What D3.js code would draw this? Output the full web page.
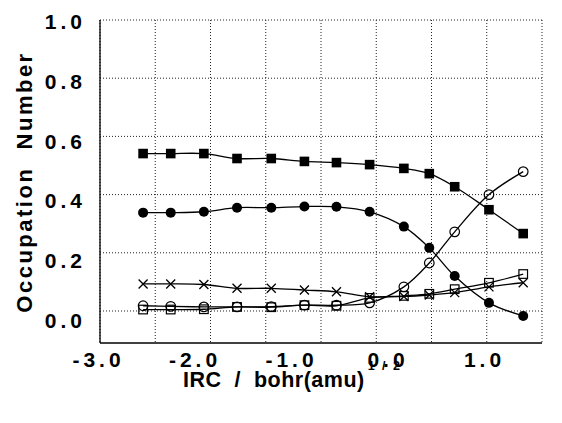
<!DOCTYPE html>
<html>
<head>
<meta charset="utf-8">
<script src="https://cdn.jsdelivr.net/npm/d3@7"></script>
<style>
  html, body { margin: 0; padding: 0; background: #fff; }
  svg { display: block; }
  text { font-family: "Liberation Sans", Arial, Helvetica, sans-serif; font-weight: bold; fill: #000; white-space: pre; }
</style>
</head>
<body>
<svg id="chart" width="562" height="423"></svg>
<script>
// ---- data ----
const irc = [-2.61, -2.36, -2.06, -1.76, -1.45, -1.15, -0.86, -0.56, -0.25, -0.02, 0.21, 0.52, 0.83];
const filledSquare = [0.541, 0.541, 0.541, 0.524, 0.524, 0.514, 0.510, 0.503, 0.490, 0.472, 0.427, 0.348, 0.266];
const filledCircle = [0.338, 0.338, 0.341, 0.355, 0.355, 0.359, 0.358, 0.341, 0.290, 0.217, 0.120, 0.028, -0.017];
const openCircle   = [0.018, 0.016, 0.014, 0.014, 0.015, 0.020, 0.020, 0.028, 0.083, 0.165, 0.272, 0.400, 0.479];
const openSquare   = [0.005, 0.005, 0.006, 0.014, 0.013, 0.020, 0.018, 0.045, 0.052, 0.059, 0.075, 0.097, 0.127];
const crossSeries  = [0.093, 0.093, 0.091, 0.078, 0.078, 0.072, 0.066, 0.049, 0.050, 0.055, 0.063, 0.083, 0.097];
const xTickValues = [-3, -2, -1, 0, 1];
const yTickValues = [0, 0.2, 0.4, 0.6, 0.8, 1.0];
const xGridValues = [-3, -2.5, -2, -1.5, -1, -0.5, 0, 0.5, 1];

const svg = d3.select("#chart");
const x = d3.scaleLinear().domain([-3, 1]).range([100, 542]);
const y = d3.scaleLinear().domain([-0.11, 1.0]).range([343, 20]);
// tick labels in the original are printed slightly off the grid
const xLab = d3.scaleLinear().domain([-3, 1]).range([96, 482]);
const yLab = d3.scaleLinear().domain([0, 1]).range([320, 21]);

// grid (dotted)
const grid = svg.append("g").attr("stroke", "#222").attr("stroke-width", 1).attr("stroke-dasharray", "1,2");
grid.selectAll("line.v").data(xGridValues).join("line")
  .attr("x1", d => x(d)).attr("x2", d => x(d)).attr("y1", y(1)).attr("y2", y(-0.11));
grid.selectAll("line.h").data(yTickValues).join("line")
  .attr("x1", x(-3)).attr("x2", x(1)).attr("y1", d => y(d)).attr("y2", d => y(d));

// solid left and bottom frame
svg.append("line").attr("x1", x(-3)).attr("x2", x(-3)).attr("y1", y(1)).attr("y2", y(-0.11))
  .attr("stroke", "#000").attr("stroke-width", 1.3);
svg.append("line").attr("x1", x(-3)).attr("x2", x(1)).attr("y1", y(-0.11)).attr("y2", y(-0.11))
  .attr("stroke", "#000").attr("stroke-width", 1.3);

// axes labels via d3 axes (no tick marks)
const fmt = d => d3.format(".1f")(d).replace("\u2212", "-");
const xAxis = svg.append("g").attr("transform", "translate(0,349)")
  .call(d3.axisBottom(xLab).tickValues(xTickValues).tickSize(0).tickFormat(fmt));
xAxis.select(".domain").remove();
xAxis.attr("font-size", 21).attr("font-family", null);
xAxis.selectAll("text").attr("font-size", 21).attr("dy", "0.71em").attr("dx", 2)
  .style("letter-spacing", "4px").attr("fill", "#000");

const yAxis = svg.append("g").attr("transform", "translate(86,0)")
  .call(d3.axisLeft(yLab).tickValues(yTickValues).tickSize(0).tickFormat(fmt));
yAxis.select(".domain").remove();
yAxis.attr("font-size", 21).attr("font-family", null);
yAxis.selectAll("text").attr("font-size", 21).attr("x", 0).attr("dy", "0.36em")
  .style("letter-spacing", "4px").attr("fill", "#000");

// titles
const xt = svg.append("text").attr("x", 183).attr("y", 387).attr("font-size", 21.5).style("letter-spacing", "0.5px");
xt.append("tspan").text("IRC  /  bohr(amu)");
xt.append("tspan").attr("font-size", 12.5).attr("dy", -17).attr("dx", 3).style("letter-spacing", "2px").text("1 / 2");

svg.append("text").attr("transform", "translate(32,182) rotate(-90)")
  .attr("text-anchor", "middle").attr("font-size", 22).style("letter-spacing", "2.5px")
  .text("Occupation  Number");

// lines
const seriesList = [
  { vals: filledSquare, type: "fsq" },
  { vals: filledCircle, type: "fci" },
  { vals: openCircle, type: "oci" },
  { vals: openSquare, type: "osq" },
  { vals: crossSeries, type: "x" }
];
const line = d3.line().x(d => x(d[0])).y(d => y(d[1])).curve(d3.curveCatmullRom.alpha(0.5));
seriesList.forEach(s => {
  const pts = irc.map((v, i) => [v, s.vals[i]]);
  svg.append("path").attr("d", line(pts)).attr("fill", "none").attr("stroke", "#000").attr("stroke-width", 1.3);
});

// markers
seriesList.forEach(s => {
  const pts = irc.map((v, i) => [v, s.vals[i]]);
  const g = svg.append("g");
  pts.forEach(p => {
    const cx = x(p[0]), cy = y(p[1]);
    if (s.type === "fsq") {
      g.append("rect").attr("x", cx - 4.8).attr("y", cy - 4.8).attr("width", 9.6).attr("height", 9.6).attr("fill", "#000");
    } else if (s.type === "fci") {
      g.append("circle").attr("cx", cx).attr("cy", cy).attr("r", 5).attr("fill", "#000");
    } else if (s.type === "oci") {
      g.append("circle").attr("cx", cx).attr("cy", cy).attr("r", 4.8).attr("fill", "none").attr("stroke", "#000").attr("stroke-width", 1.2);
    } else if (s.type === "osq") {
      g.append("rect").attr("x", cx - 4.3).attr("y", cy - 4.3).attr("width", 8.6).attr("height", 8.6)
        .attr("fill", "none").attr("stroke", "#000").attr("stroke-width", 1.2);
    } else {
      g.append("path").attr("d", `M${cx-4.5},${cy-4.5}L${cx+4.5},${cy+4.5}M${cx-4.5},${cy+4.5}L${cx+4.5},${cy-4.5}`)
        .attr("stroke", "#000").attr("stroke-width", 1.3);
    }
  });
});
</script>
</body>
</html>
